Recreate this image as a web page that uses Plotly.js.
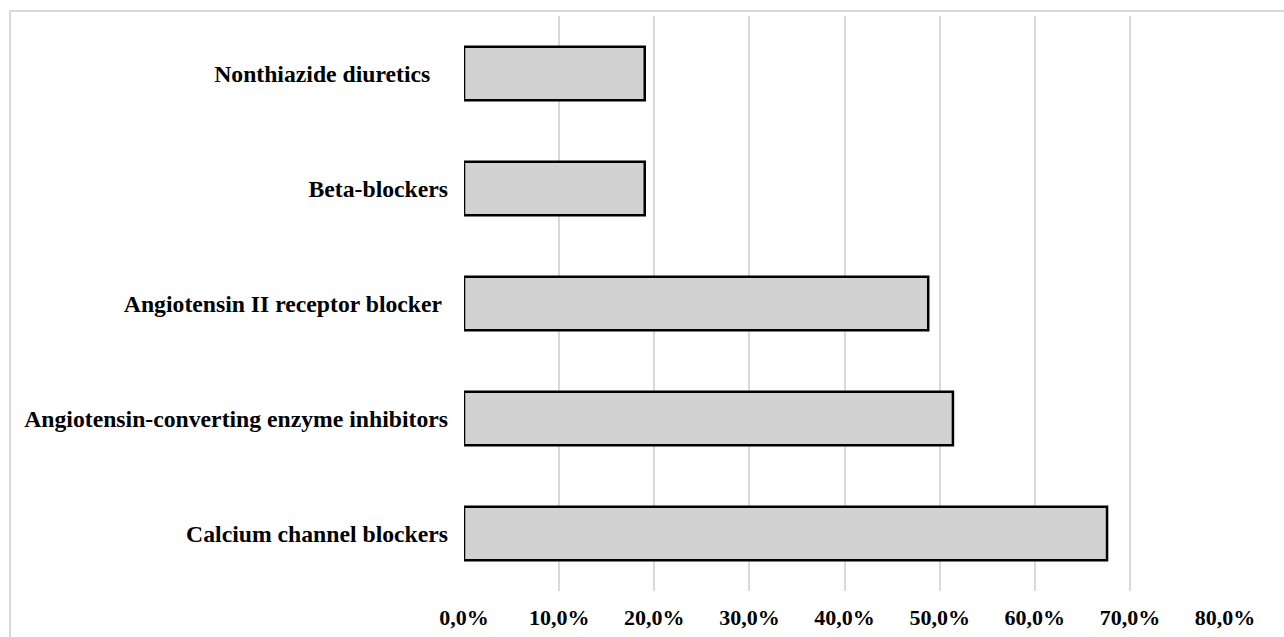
<!DOCTYPE html>
<html>
<head>
<meta charset="utf-8">
<script src="https://cdn.plot.ly/plotly-3.0.1.min.js"></script>
<style>
  html, body { margin: 0; padding: 0; background: #ffffff; }
  #chart { width: 1284px; height: 637px; }
</style>
</head>
<body>
<div id="chart"></div>
<script>
// Categories listed bottom to top
var categories = [
  "Calcium channel blockers",
  "Angiotensin-converting enzyme inhibitors",
  "Angiotensin II receptor blocker\u00a0",
  "Beta-blockers",
  "Nonthiazide diuretics\u00a0\u00a0\u00a0"
];
var shares = [0.676, 0.514, 0.488, 0.190, 0.190];
var tickValues = [0, 0.1, 0.2, 0.3, 0.4, 0.5, 0.6, 0.7, 0.8];

var trace = {
  type: 'bar',
  orientation: 'h',
  y: categories,
  x: shares,
  marker: { color: '#d2d2d2', line: { color: '#000000', width: 2.5 } },
  hoverinfo: 'x+y'
};

var layout = {
  width: 1284,
  height: 637,
  margin: { l: 464, r: 59, t: 16, b: 46, pad: 0 },
  paper_bgcolor: '#ffffff',
  plot_bgcolor: '#ffffff',
  separators: ',.',
  bargap: 0.535,
  showlegend: false,
  font: { family: '"Liberation Serif", "Times New Roman", serif', color: '#000000' },
  xaxis: {
    range: [0, 0.8],
    tickvals: tickValues,
    tickformat: '.1%',
    showgrid: true,
    gridcolor: '#d9d9d9',
    gridwidth: 2,
    zeroline: false,
    showline: false,
    ticks: '',
    ticklabelstandoff: 11,
    tickfont: { family: '"Liberation Serif", "Times New Roman", serif', size: 22, weight: 'bold', color: '#000000' },
    fixedrange: true
  },
  yaxis: {
    type: 'category',
    showgrid: false,
    zeroline: false,
    showline: false,
    ticks: '',
    ticklabelstandoff: 15,
    tickfont: { family: '"Liberation Serif", "Times New Roman", serif', size: 23.7, weight: 'bold', color: '#000000' },
    fixedrange: true
  },
  shapes: [{
    type: 'rect',
    xref: 'paper', yref: 'paper',
    x0: -0.5966, x1: 2, y0: -1, y1: 1.0087,
    line: { color: '#d9d9d9', width: 2 },
    fillcolor: 'rgba(0,0,0,0)',
    layer: 'below'
  }]
};

Plotly.newPlot('chart', [trace], layout, { displayModeBar: false, staticPlot: true });
</script>
</body>
</html>
